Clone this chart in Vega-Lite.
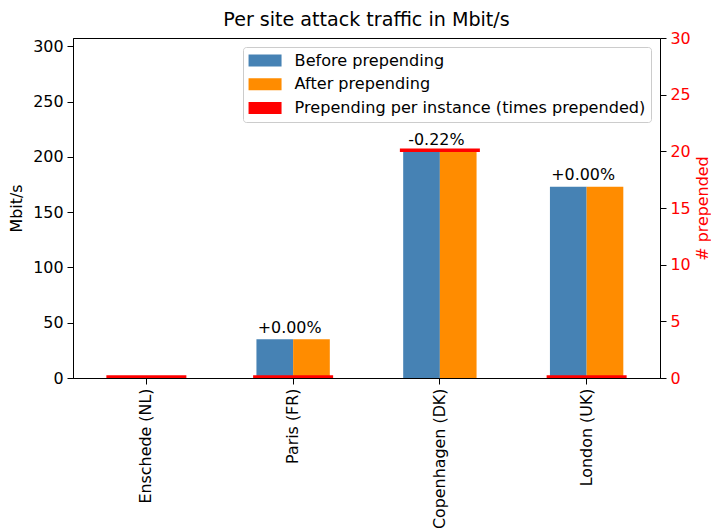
{
  "$schema": "https://vega.github.io/schema/vega-lite/v6.json",
  "width": 587,
  "height": 340,
  "autosize": {"type": "none"},
  "padding": {"left": 73, "top": 38, "right": 51, "bottom": 154},
  "title": {"text": "Per site attack traffic in Mbit/s", "fontSize": 19.1, "fontWeight": "normal", "font": "DejaVu Sans", "color": "black", "offset": 10, "baseline": "alphabetic", "dy": 25.5},
  "datasets": {
    "bars": [
      {"site": "Enschede (NL)", "series": "Before prepending", "value": 0},
      {"site": "Enschede (NL)", "series": "After prepending", "value": 0},
      {"site": "Paris (FR)", "series": "Before prepending", "value": 35},
      {"site": "Paris (FR)", "series": "After prepending", "value": 35},
      {"site": "Copenhagen (DK)", "series": "Before prepending", "value": 205},
      {"site": "Copenhagen (DK)", "series": "After prepending", "value": 204.55},
      {"site": "London (UK)", "series": "Before prepending", "value": 173},
      {"site": "London (UK)", "series": "After prepending", "value": 173}
    ],
    "labels": [
      {"site": "Paris (FR)", "value": 35, "label": "+0.00%"},
      {"site": "Copenhagen (DK)", "value": 205, "label": "-0.22%"},
      {"site": "London (UK)", "value": 173, "label": "+0.00%"}
    ],
    "prepend": [
      {"site": "Enschede (NL)", "series": "Prepending per instance (times prepended)", "times": 0},
      {"site": "Paris (FR)", "series": "Prepending per instance (times prepended)", "times": 0},
      {"site": "Copenhagen (DK)", "series": "Prepending per instance (times prepended)", "times": 20},
      {"site": "London (UK)", "series": "Prepending per instance (times prepended)", "times": 0}
    ]
  },
  "config": {
    "font": "DejaVu Sans",
    "view": {"stroke": "black", "strokeWidth": 1},
    "axis": {
      "labelFont": "DejaVu Sans", "labelFontSize": 15.9, "labelColor": "black",
      "titleFont": "DejaVu Sans", "titleFontSize": 15.9, "titleFontWeight": "normal", "titleColor": "black",
      "domainColor": "black", "tickColor": "black", "tickSize": 6, "labelPadding": 4, "grid": false
    }
  },
  "layer": [
    {
      "layer": [
        {
          "data": {"name": "bars"},
          "mark": {"type": "bar"},
          "encoding": {
            "x": {"field": "site", "type": "nominal", "sort": ["Enschede (NL)", "Paris (FR)", "Copenhagen (DK)", "London (UK)"], "scale": {"paddingInner": 0, "paddingOuter": 0}, "axis": {"title": null, "labelAngle": -90}},
            "xOffset": {"field": "series", "type": "nominal", "sort": ["Before prepending", "After prepending"], "scale": {"paddingInner": 0, "paddingOuter": 1}},
            "y": {"field": "value", "type": "quantitative", "scale": {"domain": [0, 307.5], "nice": false}, "axis": {"title": "Mbit/s", "titlePadding": 8, "values": [0, 50, 100, 150, 200, 250, 300]}},
            "color": {
              "field": "series", "type": "nominal",
              "scale": {"domain": ["Before prepending", "After prepending", "Prepending per instance (times prepended)"], "range": ["#4682b4", "#ff8c00", "#ff0000"]},
              "legend": {
                "title": null, "orient": "top-right", "offset": 9,
                "labelFont": "DejaVu Sans", "labelFontSize": 16.1, "labelColor": "black", "labelLimit": 0, "labelOffset": 30,
                "symbolType": "M-1,-0.75H3.125V0.75H-1Z", "symbolSize": 256, "symbolStrokeWidth": 0, "symbolOpacity": 1,
                "fillColor": "white", "strokeColor": "#cccccc", "cornerRadius": 3, "padding": 5.5, "rowPadding": 6.7
              }
            }
          }
        },
        {
          "data": {"name": "labels"},
          "mark": {"type": "text", "dx": -3.5, "dy": -6.5, "baseline": "alphabetic", "fontSize": 15.9, "color": "black", "font": "DejaVu Sans"},
          "encoding": {
            "x": {"field": "site", "type": "nominal", "sort": ["Enschede (NL)", "Paris (FR)", "Copenhagen (DK)", "London (UK)"]},
            "y": {"field": "value", "type": "quantitative"},
            "text": {"field": "label"}
          }
        }
      ]
    },
    {
      "data": {"name": "prepend"},
      "mark": {"type": "tick", "size": 80, "thickness": 3.5, "clip": true, "opacity": 1, "yOffset": -1},
      "encoding": {
        "x": {"field": "site", "type": "nominal", "sort": ["Enschede (NL)", "Paris (FR)", "Copenhagen (DK)", "London (UK)"]},
        "y": {"field": "times", "type": "quantitative", "scale": {"domain": [0, 30], "nice": false}, "axis": {"orient": "right", "title": "# prepended", "titleAngle": 270, "titleBaseline": "top", "titlePadding": 4, "labelColor": "red", "titleColor": "red", "values": [0, 5, 10, 15, 20, 25, 30]}},
        "color": {"field": "series", "type": "nominal"}
      }
    }
  ],
  "resolve": {"scale": {"y": "independent"}}
}
